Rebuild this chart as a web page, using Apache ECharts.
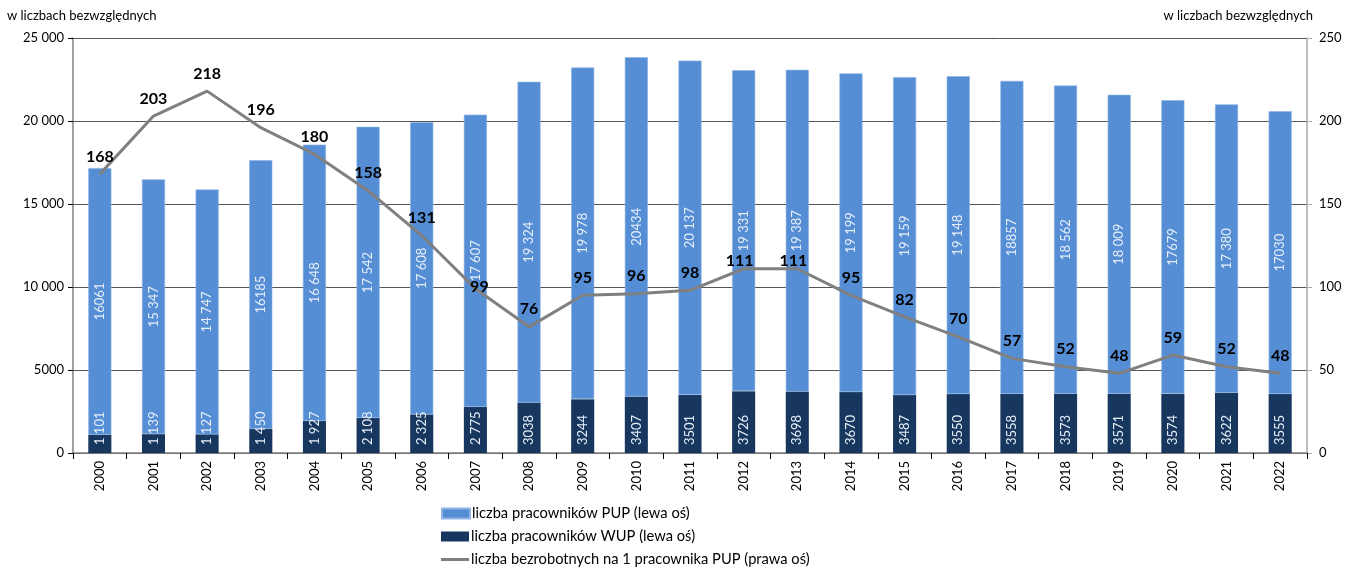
<!DOCTYPE html>
<html><head><meta charset="utf-8">
<script src="https://cdn.jsdelivr.net/npm/echarts@6/dist/echarts.min.js"></script>
<style>html,body{margin:0;padding:0;background:#fff}#c{width:1345px;height:567px}</style>
</head><body><div id="c"></div>
<script>
const years = ['2000','2001','2002','2003','2004','2005','2006','2007','2008','2009','2010','2011','2012','2013','2014','2015','2016','2017','2018','2019','2020','2021','2022'];
const wup = [1101,1139,1127,1450,1927,2108,2325,2775,3038,3244,3407,3501,3726,3698,3670,3487,3550,3558,3573,3571,3574,3622,3555];
const pup = [16061,15347,14747,16185,16648,17542,17608,17607,19324,19978,20434,20137,19331,19387,19199,19159,19148,18857,18562,18009,17679,17380,17030];
const ratio = [168,203,218,196,180,158,131,99,76,95,96,98,111,111,95,82,70,57,52,48,59,52,48];
const wupLabels = ['1 101','1 139','1 127','1 450','1 927','2 108','2 325','2 775','3038','3244','3407','3501','3726','3698','3670','3487','3550','3558','3573','3571','3574','3622','3555'];
const pupLabels = ['16061','15 347','14 747','16185','16 648','17 542','17 608','17 607','19 324','19 978','20434','20 137','19 331','19 387','19 199','19 159','19 148','18857','18 562','18 009','17679','17 380','17030'];
const legendNames = ['liczba pracowników PUP (lewa oś)','liczba pracowników WUP (lewa oś)','liczba bezrobotnych na 1 pracownika PUP (prawa oś)'];
const leftTicks = v => v >= 10000 ? String(v).replace(/(\d+)(\d{3})$/, '$1 $2') : String(v);

const FONT = 'Lato';
const chart = echarts.init(document.getElementById('c'));
const barLabelBase = { show: true, rotate: 90, color: '#e6eef8', fontSize: 13, fontFamily: FONT };
const legendText = { fontSize: 14.7, fontFamily: FONT, color: '#000', padding: [0, 0, 0, -3] };
const mkLegend = (i, top, icon) => ({
  orient: 'vertical', left: 436, top: top, itemWidth: 28, itemHeight: 10, itemGap: 0,
  textStyle: legendText, data: [{ name: legendNames[i], icon: icon }], selectedMode: false
});
const labelOffsets = { 7: [4, 16], 12: [-4, 10], 13: [-4, 10] };
const lineData = ratio.map((v, i) => labelOffsets[i] ? { value: v, label: { offset: labelOffsets[i] } } : v);

chart.setOption({
  animation: false,
  textStyle: { fontFamily: FONT },
  graphic: [
    { type: 'text', left: 7, top: 9, style: { text: 'w liczbach bezwzględnych', fontSize: 13, fontFamily: FONT, fill: '#000' } },
    { type: 'text', right: 32, top: 9, style: { text: 'w liczbach bezwzględnych', fontSize: 13, fontFamily: FONT, fill: '#000' } }
  ],
  grid: { left: 73, right: 38, top: 38, bottom: 114, containLabel: false },
  legend: [
    mkLegend(0, 501, 'rect'),
    mkLegend(1, 524, 'rect'),
    mkLegend(2, 547, 'path://M0,4 L28,4 L28,7 L0,7 Z')
  ],
  xAxis: {
    type: 'category', data: years,
    axisLine: { lineStyle: { color: '#808080', width: 1.5 } },
    axisTick: { show: true, length: 6, lineStyle: { color: '#000' } },
    axisLabel: { rotate: 90, fontSize: 13, color: '#000', fontFamily: FONT, margin: 8 }
  },
  yAxis: [
    { type: 'value', min: 0, max: 25000, interval: 5000,
      axisLine: { show: true, lineStyle: { color: '#808080', width: 1.5 } },
      axisTick: { show: true, length: 5, lineStyle: { color: '#000' } },
      axisLabel: { fontSize: 13, color: '#000', fontFamily: FONT, formatter: leftTicks, margin: 9 },
      splitLine: { lineStyle: { color: '#555', width: 1 } } },
    { type: 'value', min: 0, max: 250, interval: 50,
      axisLine: { show: true, lineStyle: { color: '#aaa', width: 1.5 } },
      axisTick: { show: true, length: 5, lineStyle: { color: '#aaa' } },
      axisLabel: { fontSize: 13, color: '#000', fontFamily: FONT, margin: 12 },
      splitLine: { show: false } }
  ],
  series: [
    { name: legendNames[1], type: 'bar', stack: 's', data: wup, barWidth: '43%',
      itemStyle: { color: '#17375E' },
      label: Object.assign({}, barLabelBase, { position: 'insideBottom', align: 'left', verticalAlign: 'middle', distance: 8,
        formatter: p => wupLabels[p.dataIndex] }) },
    { name: legendNames[0], type: 'bar', stack: 's', data: pup, barWidth: '43%',
      itemStyle: { color: '#558ED5', borderColor: '#8fb4e3', borderWidth: 0.6 },
      label: Object.assign({}, barLabelBase, { position: 'inside', formatter: p => pupLabels[p.dataIndex] }) },
    { name: legendNames[2], type: 'line', yAxisIndex: 1, data: lineData,
      symbol: 'circle', symbolSize: 1, showSymbol: true, z: 10,
      lineStyle: { color: '#808080', width: 3 }, itemStyle: { color: '#808080' },
      label: { show: true, position: 'top', distance: 9, fontSize: 16, fontWeight: 'bold', color: '#000', fontFamily: FONT } }
  ]
});
</script></body></html>
